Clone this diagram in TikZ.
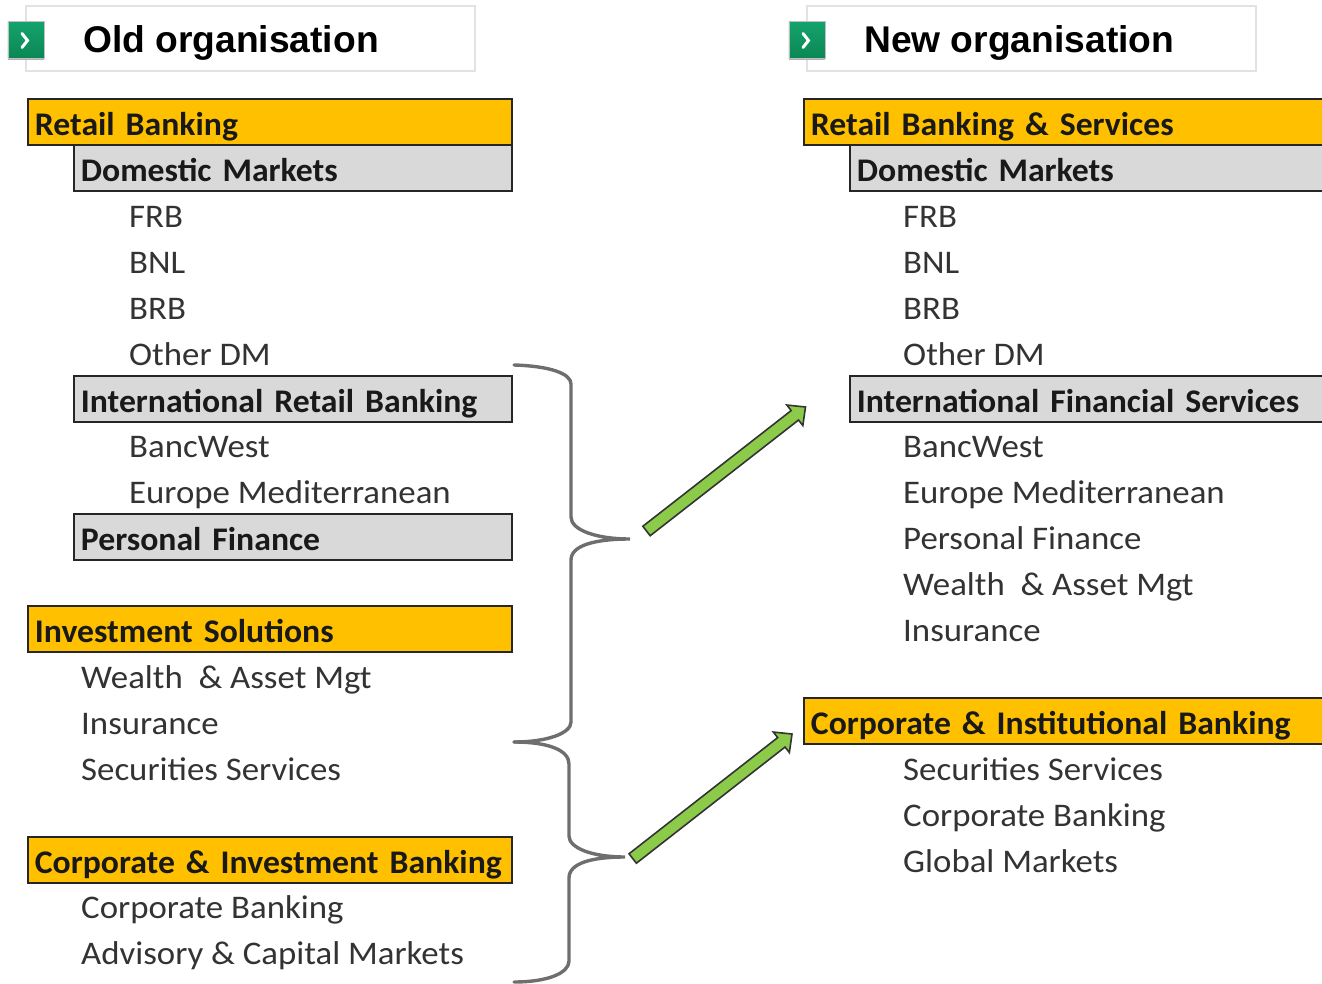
\documentclass[tikz,border=0pt]{standalone}
\usepackage{fontspec}
\setmainfont[FakeStretch=1.055,BoldFeatures={FakeStretch=1.022}]{Carlito}
\newfontfamily\headfont{Liberation Sans}
\usetikzlibrary{calc}
\definecolor{gold}{HTML}{FFC000}
\definecolor{panel}{HTML}{D9D9D9}
\definecolor{leaf}{HTML}{8CCB4A}
\definecolor{bracec}{HTML}{6E6E6E}
\definecolor{framec}{HTML}{E2E2E2}
\definecolor{rowc}{HTML}{333333}
\definecolor{icontop}{HTML}{14A36C}
\definecolor{iconbot}{HTML}{0B8655}
\tikzset{
  x=1pt,y=-1pt,
  band/.style={draw=black!85,line width=1.8pt,anchor=north west,minimum height=46pt,
    text width={#1pt-14pt},minimum width=#1pt,inner xsep=7pt,inner ysep=0pt,align=left,
    execute at begin node=\hbox to 0pt\bgroup,execute at end node=\hss\egroup,
    text height=29.5pt,text depth=2.5pt,font=\fontsize{33}{33}\selectfont\bfseries,text=black!90},
  topband/.style={band=#1,fill=gold},
  subband/.style={band=#1,fill=panel},
  row/.style={anchor=base west,inner sep=0pt,text=rowc,font=\fontsize{33}{33}\selectfont},
  frame/.style={draw=framec,line width=2pt,anchor=north west,minimum width=449pt,minimum height=65pt,fill=white},
  title/.style={anchor=base west,inner sep=0pt,font=\headfont\fontsize{37.2}{37.2}\selectfont\bfseries,text=black},
  icon/.style={top color=icontop,bottom color=iconbot,anchor=north west,minimum width=36pt,minimum height=37pt,inner sep=0pt,
    draw=black!25,line width=.6pt},
  iconshade/.style={fill=black!30,anchor=north west,minimum width=36pt,minimum height=37pt,inner sep=0pt},
  chev/.style={draw=white,line width=3pt,line cap=round,line join=miter},
  brace/.style={draw=bracec,line width=3.4pt,line cap=round},
  fat/.style={draw=black!80,fill=leaf,line width=1.6pt,line join=miter}
}
\newcommand{\fatarrow}[2]{%
  \coordinate (neck) at ($(#2)!13.5pt!(#1)$);
  \draw[fat] ($(#1)!6pt!90:(#2)$) -- ($(neck)!6pt!90:(#2)$) -- ($(neck)!13pt!90:(#2)$) -- (#2)
    -- ($(neck)!13pt!-90:(#2)$) -- ($(neck)!6pt!-90:(#2)$) -- ($(#1)!6pt!-90:(#2)$) -- cycle;
}
\begin{document}
\begin{tikzpicture}
\useasboundingbox (0,0) rectangle (1322,984);
% headers
\node[frame] (oldframe) at (25,5) {};
\node[iconshade] (oldshade) at (8,23) {};
\node[icon] (oldicon) at (7.5,21.5) {};
\draw[chev] (22,33.5) -- (27.5,40.5) -- (22,47.5);
\node[title] (oldtitle) at (83,53) {Old organisation};
\node[frame] (newframe) at (806,5) {};
\node[iconshade] (newshade) at (789,23) {};
\node[icon] (newicon) at (788.5,21.5) {};
\draw[chev] (803,33.5) -- (808.5,40.5) -- (803,47.5);
\node[title] (newtitle) at (864,53) {New organisation};
% left column
\node[topband=484] (l1) at (27,98) {Retail Banking};
\node[subband=438] (l2) at (73,144) {Domestic Markets};
\node[row] (l3) at (129,227.5) {FRB};
\node[row] (l4) at (129,273.5) {BNL};
\node[row] (l5) at (129,319.5) {BRB};
\node[row] (l6) at (129,365.5) {Other DM};
\node[subband=438] (l7) at (73,375) {International Retail Banking};
\node[row] (l8) at (129,457.5) {BancWest};
\node[row] (l9) at (129,503.5) {Europe Mediterranean};
\node[subband=438] (l10) at (73,513) {Personal Finance};
\node[topband=484] (l11) at (27,605) {Investment Solutions};
\node[row] (l12) at (81,688.5) {Wealth\ \ \& Asset Mgt};
\node[row] (l13) at (81,734.5) {Insurance};
\node[row] (l14) at (81,780.5) {Securities Services};
\node[topband=484] (l15) at (27,836) {Corporate \& Investment Banking};
\node[row] (l16) at (81,918.5) {Corporate Banking};
\node[row] (l17) at (81,964.5) {Advisory \& Capital Markets};
% right column
\node[topband=521] (r1) at (803,98) {Retail Banking \& Services};
\node[subband=475] (r2) at (849,144) {Domestic Markets};
\node[row] (r3) at (903,227.5) {FRB};
\node[row] (r4) at (903,273.5) {BNL};
\node[row] (r5) at (903,319.5) {BRB};
\node[row] (r6) at (903,365.5) {Other DM};
\node[subband=475] (r7) at (849,375) {International Financial Services};
\node[row] (r8) at (903,457.5) {BancWest};
\node[row] (r9) at (903,503.5) {Europe Mediterranean};
\node[row] (r10) at (903,549.5) {Personal Finance};
\node[row] (r11) at (903,595.5) {Wealth\ \ \& Asset Mgt};
\node[row] (r12) at (903,641.5) {Insurance};
\node[topband=521] (r13) at (803,697) {Corporate \& Institutional Banking};
\node[row] (r14) at (903,780.5) {Securities Services};
\node[row] (r15) at (903,826.5) {Corporate Banking};
\node[row] (r16) at (903,872.5) {Global Markets};
% braces
\draw[brace] (514,365) .. controls (548,366) and (571,373) .. (571,384) -- (571,517)
  .. controls (571,530) and (596,539) .. (630,539)
  .. controls (596,539) and (571,545) .. (571,560) -- (571,722)
  .. controls (571,733) and (548,742) .. (514,742);
\draw[brace] (514,742) .. controls (548,742) and (569,750) .. (569,764) -- (569,836)
  .. controls (569,848) and (592,857) .. (625,857)
  .. controls (592,857) and (569,863) .. (569,878) -- (569,961)
  .. controls (569,973) and (548,982) .. (514,982);
% arrows
\coordinate (a1t) at (646.5,531);
\coordinate (a1h) at (805.5,407);
\fatarrow{a1t}{a1h}
\coordinate (a2t) at (632.7,858.5);
\coordinate (a2h) at (792,734);
\fatarrow{a2t}{a2h}
\end{tikzpicture}
\end{document}
